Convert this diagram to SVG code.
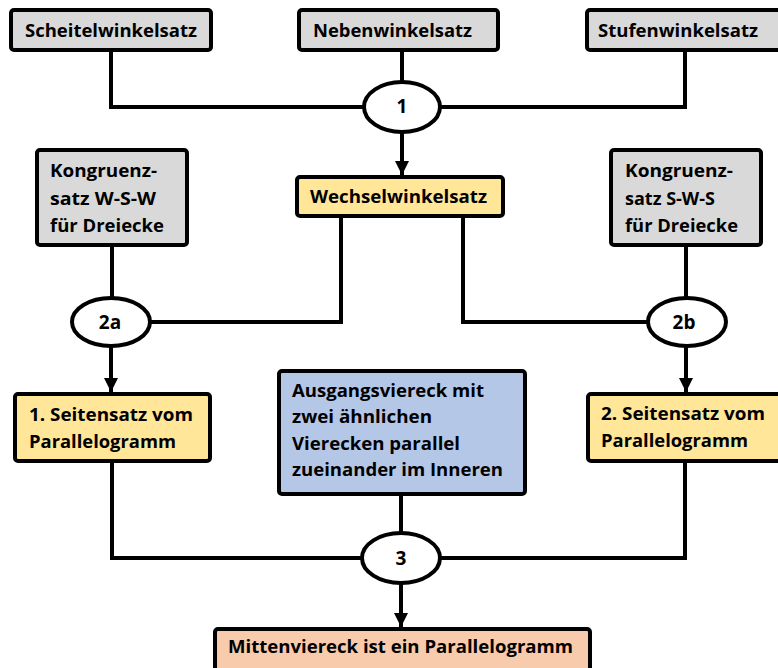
<svg xmlns="http://www.w3.org/2000/svg" width="778" height="668" viewBox="0 0 778 668">
<style>
.box{stroke:#000;stroke-width:4;rx:3;ry:3}
.gray{fill:#d9d9d9}
.yel{fill:#ffe699}
.blue{fill:#b4c7e7}
.sal{fill:#f8cbad}
.ell{fill:#fff;stroke:#000;stroke-width:4}
.con{fill:none;stroke:#000;stroke-width:4;stroke-linejoin:miter}
text{font-family:"Open Sans","Liberation Sans",sans-serif;font-weight:700;font-size:18px;fill:#000}
.c{text-anchor:middle;font-size:19px}
</style>
<defs>
<marker id="arr" viewBox="0 0 14 14" markerUnits="userSpaceOnUse" markerWidth="14" markerHeight="14" refX="14" refY="7" orient="auto">
<path d="M0,0 L14,7 L0,14 Z" fill="#000"/>
</marker>
</defs>
<rect width="778" height="668" fill="#fff"/>
<g id="connectors">
<path class="con" d="M111 52 V107 H364"/>
<path class="con" d="M402 52 V82"/>
<path class="con" d="M685 52 V107 H440"/>
<path class="con" d="M402 132 V175" marker-end="url(#arr)"/>
<path class="con" d="M112 247 V298"/>
<path class="con" d="M341 218 V322 H150"/>
<path class="con" d="M463 218 V322 H648"/>
<path class="con" d="M686 247 V298"/>
<path class="con" d="M111 346 V392" marker-end="url(#arr)"/>
<path class="con" d="M686 346 V392" marker-end="url(#arr)"/>
<path class="con" d="M112 463 V558 H362"/>
<path class="con" d="M401 496 V533"/>
<path class="con" d="M685 462 V558 H440"/>
<path class="con" d="M401 583 V627" marker-end="url(#arr)"/>
</g>
<g id="scheitel">
<rect class="box gray" x="11" y="10" width="200" height="40"/>
<text x="25" y="37" textLength="172" lengthAdjust="spacingAndGlyphs">Scheitelwinkelsatz</text>
</g>
<g id="neben">
<rect class="box gray" x="299" y="10" width="199" height="40"/>
<text x="313" y="37" textLength="159" lengthAdjust="spacingAndGlyphs">Nebenwinkelsatz</text>
</g>
<g id="stufen">
<rect class="box gray" x="587" y="10" width="200" height="40"/>
<text x="598" y="37" textLength="160" lengthAdjust="spacingAndGlyphs">Stufenwinkelsatz</text>
</g>
<g id="e1">
<ellipse class="ell" cx="402" cy="107" rx="38" ry="25"/>
<text class="c" x="402" y="113">1</text>
</g>
<g id="wechsel">
<rect class="box yel" x="297" y="177" width="206" height="39"/>
<text x="310" y="203" textLength="177" lengthAdjust="spacingAndGlyphs">Wechselwinkelsatz</text>
</g>
<g id="kongL">
<rect class="box gray" x="37" y="150" width="150" height="95"/>
<text x="50" y="177" textLength="107" lengthAdjust="spacingAndGlyphs">Kongruenz-</text>
<text x="50" y="205" textLength="106" lengthAdjust="spacingAndGlyphs">satz W-S-W</text>
<text x="50" y="232" textLength="114" lengthAdjust="spacingAndGlyphs">für Dreiecke</text>
</g>
<g id="kongR">
<rect class="box gray" x="611" y="150" width="150" height="95"/>
<text x="625" y="177" textLength="108" lengthAdjust="spacingAndGlyphs">Kongruenz-</text>
<text x="625" y="205" textLength="90" lengthAdjust="spacingAndGlyphs">satz S-W-S</text>
<text x="625" y="232" textLength="113" lengthAdjust="spacingAndGlyphs">für Dreiecke</text>
</g>
<g id="e2a">
<ellipse class="ell" cx="111" cy="322" rx="39" ry="24"/>
<text class="c" x="110" y="329">2a</text>
</g>
<g id="e2b">
<ellipse class="ell" cx="687" cy="322" rx="39" ry="24"/>
<text class="c" x="684" y="329">2b</text>
</g>
<g id="seiten1">
<rect class="box yel" x="15" y="394" width="195" height="67"/>
<text x="29" y="421" textLength="164" lengthAdjust="spacingAndGlyphs">1. Seitensatz vom</text>
<text x="29" y="448" textLength="147" lengthAdjust="spacingAndGlyphs">Parallelogramm</text>
</g>
<g id="ausgang">
<rect class="box blue" x="279" y="371" width="246" height="123"/>
<text x="292" y="397" textLength="192" lengthAdjust="spacingAndGlyphs">Ausgangsviereck mit</text>
<text x="292" y="423" textLength="140" lengthAdjust="spacingAndGlyphs">zwei ähnlichen</text>
<text x="292" y="450" textLength="168" lengthAdjust="spacingAndGlyphs">Vierecken parallel</text>
<text x="292" y="476" textLength="211" lengthAdjust="spacingAndGlyphs">zueinander im Inneren</text>
</g>
<g id="seiten2">
<rect class="box yel" x="588" y="394" width="200" height="67"/>
<text x="601" y="420" textLength="164" lengthAdjust="spacingAndGlyphs">2. Seitensatz vom</text>
<text x="601" y="447" textLength="147" lengthAdjust="spacingAndGlyphs">Parallelogramm</text>
</g>
<g id="e3">
<ellipse class="ell" cx="401" cy="558" rx="39" ry="25"/>
<text class="c" x="401" y="565">3</text>
</g>
<g id="mitten">
<rect class="box sal" x="215" y="629" width="375" height="50"/>
<text x="228" y="653" textLength="345" lengthAdjust="spacingAndGlyphs">Mittenviereck ist ein Parallelogramm</text>
</g>
</svg>
